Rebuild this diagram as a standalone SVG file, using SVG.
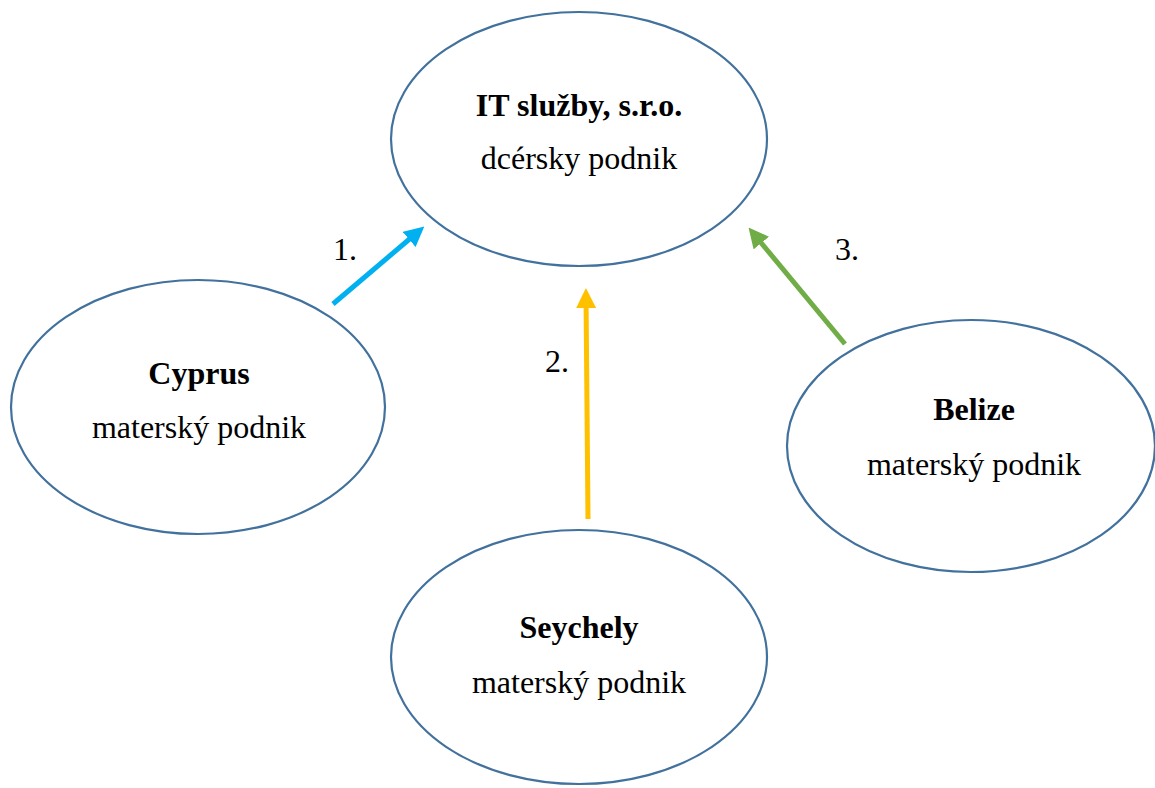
<svg xmlns="http://www.w3.org/2000/svg" width="1155" height="788" viewBox="0 0 1155 788">
<style>
.node ellipse{fill:#fff;stroke:#41719C;stroke-width:2.2}
text{font-family:"Liberation Serif","Times New Roman",serif;font-size:32px;fill:#000}
.t{text-anchor:middle}
.b{font-weight:bold}
.c line{stroke-width:5;fill:none}
</style>
<defs>
<marker id="aC" markerWidth="4" markerHeight="4" refX="2.6" refY="2" orient="auto" markerUnits="strokeWidth"><path d="M0,0 L4,2 L0,4 z" fill="#00B0F0"/></marker>
<marker id="aY" markerWidth="4" markerHeight="4" refX="2.6" refY="2" orient="auto" markerUnits="strokeWidth"><path d="M0,0 L4,2 L0,4 z" fill="#FFC000"/></marker>
<marker id="aG" markerWidth="4" markerHeight="4" refX="2.6" refY="2" orient="auto" markerUnits="strokeWidth"><path d="M0,0 L4,2 L0,4 z" fill="#70AD47"/></marker>
</defs>
<rect width="1155" height="788" fill="#fff"/>
<g id="it" class="node">
<ellipse cx="579" cy="139" rx="188" ry="127"/>
<text class="t b" x="579" y="116">IT služby, s.r.o.</text>
<text class="t" x="579" y="169">dcérsky podnik</text>
</g>
<g id="cyprus" class="node">
<ellipse cx="198" cy="407" rx="187" ry="127"/>
<text class="t b" x="199" y="384">Cyprus</text>
<text class="t" x="199" y="438">materský podnik</text>
</g>
<g id="seychely" class="node">
<ellipse cx="579" cy="657" rx="188" ry="127"/>
<text class="t b" x="579" y="638">Seychely</text>
<text class="t" x="579" y="693">materský podnik</text>
</g>
<g id="belize" class="node">
<ellipse cx="971" cy="446" rx="184" ry="126"/>
<text class="t b" x="974" y="420">Belize</text>
<text class="t" x="974" y="475">materský podnik</text>
</g>
<g id="connectors" class="c">
<line x1="333" y1="304" x2="419" y2="231" stroke="#00B0F0" marker-end="url(#aC)"/>
<line x1="588" y1="519" x2="586" y2="295" stroke="#FFC000" marker-end="url(#aY)"/>
<line x1="845" y1="344" x2="753" y2="233" stroke="#70AD47" marker-end="url(#aG)"/>
</g>
<g id="labels">
<text x="333" y="260">1.</text>
<text x="545" y="372">2.</text>
<text x="835" y="260">3.</text>
</g>
</svg>
